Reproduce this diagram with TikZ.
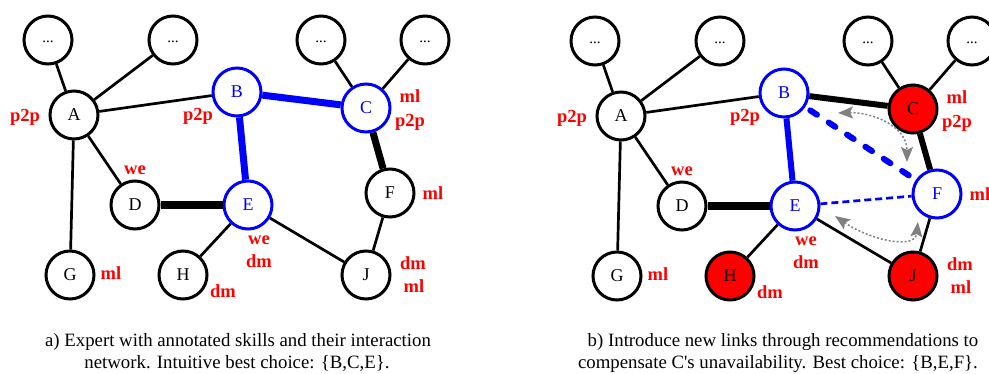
\documentclass[tikz,border=0pt]{standalone}
\usepackage{fontspec}
\setmainfont{Liberation Serif}
\usetikzlibrary{arrows.meta}
\definecolor{rd}{RGB}{255,0,0}
\definecolor{bl}{RGB}{0,0,255}
\definecolor{gr}{RGB}{128,128,128}
\tikzset{
  vert/.style={circle, draw=black, line width=3pt, minimum size=48pt, inner sep=0pt,
    fill=white, font=\fontsize{18}{20}\selectfont},
  dotsnode/.style={vert, font=\fontsize{15}{16}\selectfont, text height=6pt, text depth=0pt},
  sel/.style={draw=bl, text=bl},
  unav/.style={fill=rd},
  lbl/.style={text=rd, font=\bfseries\fontsize{18.5}{20}\selectfont, anchor=base, inner sep=0pt},
  captxt/.style={font=\fontsize{18.8}{21}\selectfont, anchor=base, inner sep=0pt},
  lnk/.style={line width=2.7pt},
  strong/.style={line width=7pt},
  heavy/.style={line width=8pt},
  medium/.style={line width=6pt},
  rec/.style={draw=gr, line width=1.5pt, dash pattern=on 2pt off 2pt,
    {Stealth[length=15pt,width=12pt,inset=3pt,fill=gr,color=gr]}-{Stealth[length=15pt,width=12pt,inset=3pt,fill=gr,color=gr]}}
}
\begin{document}
\begin{tikzpicture}[x=1pt,y=-1pt]
\useasboundingbox (0,0) rectangle (989,374);
\clip (0,0) rectangle (989,374);
% ---------------- panel a ----------------
\node[dotsnode] (aX1) at (48,40) {...};
\node[dotsnode] (aX2) at (173,40) {...};
\node[dotsnode] (aX3) at (321,40) {...};
\node[dotsnode] (aX4) at (425,40) {...};
\node[vert] (aA) at (74,115) {A};
\node[vert,sel] (aB) at (237,92) {B};
\node[vert,sel] (aC) at (366,108) {C};
\node[vert] (aD) at (135,205) {D};
\node[vert,sel] (aE) at (248,205) {E};
\node[vert] (aF) at (390,193) {F};
\node[vert] (aG) at (70,275) {G};
\node[vert] (aH) at (183,275) {H};
\node[vert] (aJ) at (366,275) {J};
\draw[lnk] (aX1) -- (aA);
\draw[lnk] (aX2) -- (aA);
\draw[lnk] (aA) -- (aB);
\draw[lnk] (aA) -- (aD);
\draw[lnk] (aA) -- (aG);
\draw[lnk] (aX3) -- (aC);
\draw[lnk] (aX4) -- (aC);
\draw[strong,bl] (aB) -- (aC);
\draw[strong,bl] (aB) -- (aE);
\draw[strong] (aC) -- (aF);
\draw[heavy] (aD) -- (aE);
\draw[lnk] (aE) -- (aH);
\draw[lnk] (aE) -- (aJ);
\draw[lnk] (aF) -- (aJ);
\node[lbl] (aLA) at (25,122) {p2p};
\node[lbl] (aLB) at (198,121) {p2p};
\node[lbl] (aLC1) at (410,103) {ml};
\node[lbl] (aLC2) at (410,127) {p2p};
\node[lbl] (aLD) at (135,175) {we};
\node[lbl] (aLF) at (433,200) {ml};
\node[lbl] (aLE1) at (259,245) {we};
\node[lbl] (aLE2) at (259,268) {dm};
\node[lbl] (aLG) at (111,280) {ml};
\node[lbl] (aLH) at (223,298) {dm};
\node[lbl] (aLJ1) at (413,270) {dm};
\node[lbl] (aLJ2) at (414,293) {ml};
\node[captxt] (capa1) at (238,347) {a) Expert with annotated skills and their interaction};
\node[captxt] (capa2) at (237,368) {network. Intuitive best choice: \{B,C,E\}.};
% ---------------- panel b ----------------
\begin{scope}[shift={(547,1)}]
\node[dotsnode] (bX1) at (48,40) {...};
\node[dotsnode] (bX2) at (173,40) {...};
\node[dotsnode] (bX3) at (321,40) {...};
\node[dotsnode] (bX4) at (425,40) {...};
\node[vert] (bA) at (74,115) {A};
\node[vert,sel] (bB) at (237,92) {B};
\node[vert,unav] (bC) at (366,108) {C};
\node[vert] (bD) at (135,205) {D};
\node[vert,sel] (bE) at (248,205) {E};
\node[vert,sel] (bF) at (390,193) {F};
\node[vert] (bG) at (70,275) {G};
\node[vert,unav] (bH) at (183,275) {H};
\node[vert,unav] (bJ) at (366,275) {J};
\draw[lnk] (bX1) -- (bA);
\draw[lnk] (bX2) -- (bA);
\draw[lnk] (bA) -- (bB);
\draw[lnk] (bA) -- (bD);
\draw[lnk] (bA) -- (bG);
\draw[lnk] (bX3) -- (bC);
\draw[lnk] (bX4) -- (bC);
\draw[medium] (bB) -- (bC);
\draw[medium,bl] (bB) -- (bE);
\draw[medium] (bC) -- (bF);
\draw[heavy] (bD) -- (bE);
\draw[lnk] (bE) -- (bH);
\draw[lnk] (bE) -- (bJ);
\draw[lnk] (bF) -- (bJ);
\draw[bl, line width=6pt, line cap=round, dash pattern=on 8pt off 14pt, dash phase=-6pt] (bB) -- (bF);
\draw[bl, line width=2.7pt, dash pattern=on 7pt off 4pt] (bE) -- (bF);
\coordinate (bR1) at (291,112);
\coordinate (bR2) at (360,161);
\coordinate (bR3) at (288,215);
\coordinate (bR4) at (371,221);
\draw[rec] (bR1) .. controls (323,111) and (360,124) .. (bR2);
\draw[rec] (bR3) .. controls (323,239) and (368,249) .. (bR4);
\node[lbl] (bLA) at (25,122) {p2p};
\node[lbl] (bLB) at (198,121) {p2p};
\node[lbl] (bLC1) at (410,103) {ml};
\node[lbl] (bLC2) at (410,127) {p2p};
\node[lbl] (bLD) at (135,175) {we};
\node[lbl] (bLF) at (433,200) {ml};
\node[lbl] (bLE1) at (259,245) {we};
\node[lbl] (bLE2) at (259,268) {dm};
\node[lbl] (bLG) at (111,280) {ml};
\node[lbl] (bLH) at (223,298) {dm};
\node[lbl] (bLJ1) at (413,270) {dm};
\node[lbl] (bLJ2) at (414,293) {ml};
\end{scope}
\node[captxt] (capb1) at (783,347) {b) Introduce new links through recommendations to};
\node[captxt] (capb2) at (778,368) {compensate C\textquotesingle s unavailability. Best choice: \{B,E,F\}.};
\end{tikzpicture}
\end{document}
